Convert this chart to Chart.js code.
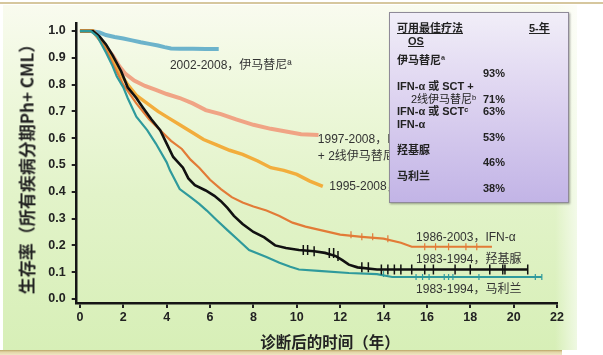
<!DOCTYPE html>
<html>
<head>
<meta charset="utf-8">
<script src="https://cdn.jsdelivr.net/npm/chart.js@4/dist/chart.umd.min.js"></script>
<style>
  html, body { margin: 0; padding: 0; background: #ffffff; width: 603px; height: 355px; overflow: hidden; }
  #topline { position: absolute; left: 0; top: 2px; width: 603px; height: 2px; background: #d6c79e; }
  #panel { position: absolute; left: 3px; top: 5px; width: 574px; height: 345px;
    background: linear-gradient(to bottom, #f9fbef 0%, #eef8dc 25%, #e2f3c9 55%, #d7efb7 100%); }
  #panelfade { position: absolute; left: 555px; top: 5px; width: 22px; height: 345px;
    background: linear-gradient(to right, rgba(255,255,255,0) 0%, rgba(255,255,255,0.6) 100%); }
  #bottomline { position: absolute; left: 0; top: 350px; width: 562px; height: 5px;
    background: linear-gradient(to bottom, #b9a465 0%, #e2d5a6 40%, #efe6c4 100%); }
  #c { position: absolute; left: 0; top: 0; }
  .title { position: absolute; white-space: nowrap; font-family: "Noto Sans CJK SC", sans-serif; font-weight: bold; color: #222; }
  #ytitle { left: 26px; top: 165px; font-size: 17px; transform: translate(-50%, -50%) rotate(-90deg); }
  #xtitle { left: 330px; top: 341px; font-size: 15.5px; transform: translate(-50%, -50%); }
  #box { position: absolute; left: 389px; top: 12px; width: 178px; height: 189px;
    border: 1px solid #8f8a98; box-shadow: 1px 1px 2px rgba(0,0,0,0.35);
    background: linear-gradient(to bottom, #f1eef8 0%, #ddd3f0 45%, #c2b4e6 100%);
    font-family: "Liberation Sans", Arial, "Noto Sans CJK SC", sans-serif; font-weight: bold; font-size: 11px; color: #222; }
  #box div { position: absolute; white-space: nowrap; line-height: 13px; }
  .u { text-decoration: underline; }
</style>
</head>
<body>
<div id="topline"></div>
<div id="panel"></div>
<div id="panelfade"></div>
<div id="bottomline"></div>
<canvas id="c" width="603" height="355"></canvas>
<div class="title" id="ytitle">生存率（所有疾病分期Ph+ CML）</div>
<div class="title" id="xtitle">诊断后的时间（年）</div>
<div id="box"></div>
<script>
// ---------------- data ----------------
const xTicks = [0, 2, 4, 6, 8, 10, 12, 14, 16, 18, 20, 22];
const yTicks = [0.0, 0.1, 0.2, 0.3, 0.4, 0.5, 0.6, 0.7, 0.8, 0.9, 1.0];

const seriesNames = ["2002-2008，伊马替尼ª", "1997-2008，IFN-α 或 SCT + 2线伊马替尼", "1995-2008，IFN-α 或 SCT",
                     "1986-2003，IFN-α", "1983-1994，羟基脲", "1983-1994，马利兰"];

const imatinibX = [0, 0.5, 0.9, 1.2, 1.6, 2.0, 2.4, 2.8, 3.2, 3.6, 3.9, 4.2, 4.6, 5.2, 5.8, 6.4];
const imatinibY = [1.0, 1.0, 0.995, 0.985, 0.978, 0.972, 0.965, 0.958, 0.952, 0.946, 0.94, 0.935, 0.934, 0.934, 0.933, 0.933];

const secondLineX = [0, 0.6, 0.9, 1.2, 1.5, 1.8, 2.1, 2.5, 3.0, 3.5, 4.0, 4.6, 5.2, 5.8, 6.5, 7.2, 8.0, 8.8, 9.5, 10.2, 11.0];
const secondLineY = [1.0, 1.0, 0.97, 0.94, 0.91, 0.87, 0.84, 0.815, 0.795, 0.78, 0.765, 0.75, 0.73, 0.705, 0.69, 0.67, 0.65, 0.635, 0.625, 0.615, 0.612];

const ifnSctX = [0, 0.6, 0.9, 1.2, 1.5, 1.8, 2.2, 2.6, 3.1, 3.6, 4.1, 4.6, 5.2, 5.7, 6.3, 6.9, 7.5, 8.2, 8.8, 9.4, 10.0, 10.6, 11.2];
const ifnSctY = [1.0, 1.0, 0.97, 0.94, 0.90, 0.85, 0.80, 0.76, 0.73, 0.70, 0.675, 0.65, 0.62, 0.595, 0.575, 0.555, 0.54, 0.515, 0.49, 0.48, 0.465, 0.44, 0.42];

const ifnX = [0, 0.6, 0.9, 1.2, 1.5, 2.0, 2.6, 3.2, 3.7, 4.2, 4.7, 5.1, 5.5, 6.0, 6.5, 7.0, 7.5, 8.0, 8.6, 9.2, 9.8, 10.4, 11.2, 12.0, 13.0, 14.0, 14.8, 15.3, 16.5, 18.0, 19.0];
const ifnY = [1.0, 1.0, 0.97, 0.93, 0.88, 0.80, 0.73, 0.67, 0.63, 0.59, 0.56, 0.52, 0.49, 0.445, 0.41, 0.38, 0.36, 0.345, 0.33, 0.31, 0.285, 0.27, 0.255, 0.24, 0.232, 0.225, 0.21, 0.195, 0.195, 0.195, 0.195];

const hydroxyureaX = [0, 0.6, 0.9, 1.2, 1.5, 1.9, 2.2, 2.6, 2.9, 3.3, 3.7, 4.0, 4.3, 4.75, 5.0, 5.3, 5.8, 6.2, 6.5, 6.8, 7.1, 7.5, 8.0, 8.5, 9.0, 9.5, 10.1, 10.8, 11.3, 11.8, 12.1, 12.4, 12.8, 13.7, 15.0, 17.0, 19.0, 20.65];
const hydroxyureaY = [1.0, 1.0, 0.98, 0.95, 0.91, 0.85, 0.79, 0.75, 0.715, 0.67, 0.63, 0.58, 0.53, 0.49, 0.45, 0.425, 0.405, 0.385, 0.365, 0.34, 0.31, 0.28, 0.25, 0.23, 0.20, 0.19, 0.183, 0.178, 0.172, 0.16, 0.145, 0.128, 0.118, 0.11, 0.11, 0.11, 0.11, 0.11];

const busulfanX = [0, 0.5, 0.8, 1.0, 1.2, 1.5, 1.7, 2.0, 2.2, 2.6, 3.1, 3.5, 4.0, 4.15, 4.6, 5.1, 5.5, 5.85, 6.3, 6.8, 7.3, 7.8, 8.6, 9.2, 9.7, 10.1, 11.0, 12.4, 13.7, 14.4, 16.0, 18.0, 21.3];
const busulfanY = [1.0, 1.0, 0.98, 0.95, 0.92, 0.87, 0.83, 0.79, 0.75, 0.68, 0.63, 0.58, 0.51, 0.48, 0.41, 0.38, 0.355, 0.33, 0.295, 0.257, 0.22, 0.183, 0.157, 0.135, 0.12, 0.11, 0.105, 0.097, 0.093, 0.082, 0.082, 0.082, 0.082];

// censoring marks
const hydroxyCensorX = [10.3, 10.5, 10.8, 11.5, 11.7, 11.9, 13.0, 13.3, 13.9, 14.2, 14.5, 14.8, 15.3, 15.9, 16.3, 17.3, 18.0, 18.9, 19.5, 19.6, 20.65];
const hydroxyCensorY = [0.183, 0.183, 0.178, 0.172, 0.172, 0.16, 0.118, 0.118, 0.11, 0.11, 0.11, 0.11, 0.11, 0.11, 0.11, 0.11, 0.11, 0.11, 0.11, 0.11, 0.11];
const busulfanCensorX = [14.0, 15.5, 15.8, 16.1, 16.8, 17.0, 17.2, 18.4, 21.0, 21.3];
const busulfanCensorY = [0.093, 0.082, 0.082, 0.082, 0.082, 0.082, 0.082, 0.082, 0.082, 0.082];
const ifnCensorX = [12.5, 13.0, 13.5, 14.2, 15.9, 16.4, 17.0, 17.8, 18.3];
const ifnCensorY = [0.24, 0.232, 0.232, 0.225, 0.195, 0.195, 0.195, 0.195, 0.195];

// table (legend box)
const tableHeader = ["可用最佳疗法", "OS", "5-年"];
const tableRows = [
  { lines: ["伊马替尼ª"], value: "93%" },
  { lines: ["IFN-α 或 SCT +", "2线伊马替尼ᵇ"], value: "71%" },
  { lines: ["IFN-α 或 SCTᶜ"], value: "63%" },
  { lines: ["IFN-α"], value: "53%" },
  { lines: ["羟基脲"], value: "46%" },
  { lines: ["马利兰"], value: "38%" }
];

// curve label positions (data coordinates)
const labelX = [4.15, 10.97, 11.5, 15.5, 15.5, 15.5];
const labelY = [0.87, 0.593, 0.42, 0.23, 0.145, 0.033];

// ---------------- build ----------------
function pts(xs, ys) { return xs.map((x, i) => ({ x: x, y: ys[i] })); }

const curveStyle = [
  { color: "#6cb3cb", width: 4 },
  { color: "#f0a485", width: 4 },
  { color: "#f2ad3c", width: 3.5 },
  { color: "#e27b37", width: 2.2 },
  { color: "#111111", width: 2.6 },
  { color: "#2f9a9c", width: 2.2 }
];
const curveData = [
  pts(imatinibX, imatinibY), pts(secondLineX, secondLineY), pts(ifnSctX, ifnSctY),
  pts(ifnX, ifnY), pts(hydroxyureaX, hydroxyureaY), pts(busulfanX, busulfanY)
];

const datasets = curveData.map((d, i) => ({
  label: seriesNames[i], data: d, tension: 0,
  borderColor: curveStyle[i].color, borderWidth: curveStyle[i].width,
  pointRadius: 0, fill: false, order: 10 - i
}));

function censorSet(xs, ys, color, r, w) {
  return { data: pts(xs, ys), showLine: false, pointStyle: "line", rotation: 90,
    pointRadius: r, borderColor: color, borderWidth: w, backgroundColor: color, order: 0 };
}
datasets.push(censorSet(hydroxyCensorX, hydroxyCensorY, "#111111", 5, 1.5));
datasets.push(censorSet(busulfanCensorX, busulfanCensorY, "#2f9a9c", 3, 1.2));
datasets.push(censorSet(ifnCensorX, ifnCensorY, "#e27b37", 3.5, 1.2));

const labelPlugin = {
  id: "curveLabels",
  afterDatasetsDraw(chart) {
    const ctx = chart.ctx, xs = chart.scales.x, ys = chart.scales.y;
    ctx.save();
    ctx.font = '12px "Liberation Sans", Arial, "Noto Sans CJK SC", sans-serif';
    ctx.fillStyle = "#333";
    ctx.textBaseline = "middle";
    ctx.textAlign = "left";
    const texts = [
      ["2002-2008，伊马替尼ª"],
      ["1997-2008，IFN-α 或 SCT", "+ 2线伊马替尼ᵇ"],
      ["1995-2008，IFN-α 或 SCT"],
      ["1986-2003，IFN-α"],
      ["1983-1994，羟基脲"],
      ["1983-1994，马利兰"]
    ];
    texts.forEach((lines, i) => {
      const px = xs.getPixelForValue(labelX[i]);
      const py = ys.getPixelForValue(labelY[i]);
      lines.forEach((t, j) => ctx.fillText(t, px, py + j * 17));
    });
    ctx.restore();
  }
};

const tickFont = { family: '"Liberation Sans", Arial, sans-serif', size: 12.5, weight: "bold" };

new Chart(document.getElementById("c"), {
  type: "line",
  data: { datasets: datasets },
  options: {
    responsive: false, animation: false,
    layout: { padding: { left: 0, right: 46, top: 23, bottom: 0 } },
    plugins: { legend: { display: false }, tooltip: { enabled: false } },
    scales: {
      x: {
        type: "linear", min: -0.15, max: 22,
        afterBuildTicks(s) { s.ticks = xTicks.map(v => ({ value: v })); },
        afterFit(s) { s.height = 52; },
        ticks: { color: "#222", font: tickFont, padding: 2, maxRotation: 0 },
        grid: { drawOnChartArea: false, drawTicks: true, tickLength: 5, color: "#222", lineWidth: 2 },
        border: { display: true, color: "#151515", width: 2.5 },
        title: { display: false }
      },
      y: {
        type: "linear", min: -0.015, max: 1.03,
        afterBuildTicks(s) { s.ticks = yTicks.map(v => ({ value: v })); },
        afterFit(s) { s.width = 76.7; },
        ticks: { color: "#222", font: tickFont, padding: 6, callback: v => Number(v).toFixed(1) },
        grid: { drawOnChartArea: false, drawTicks: true, tickLength: 5, color: "#222", lineWidth: 2 },
        border: { display: true, color: "#151515", width: 2.5 },
        title: { display: false }
      }
    }
  },
  plugins: [labelPlugin]
});

// legend/table box as real HTML text
(function () {
  const box = document.getElementById("box");
  function add(text, left, top, cls) {
    const d = document.createElement("div");
    d.textContent = text; d.style.left = left + "px"; d.style.top = top + "px";
    if (cls) d.className = cls;
    box.appendChild(d);
    return d;
  }
  add(tableHeader[0], 7, 9, "u");
  add(tableHeader[1], 18, 22, "u");
  add(tableHeader[2], 139, 9, "u");
  const rowTops = [41, 67, 92, 105, 131, 157];
  const rowVals = [54, 80, 92, 118, 143, 169];
  tableRows.forEach((r, i) => {
    r.lines.forEach((ln, j) => {
      const d = add(ln, j === 0 ? 7 : 21, rowTops[i] + j * 13);
      if (j === 1) d.style.fontWeight = "normal";
    });
    add(r.value, 93, rowVals[i]);
  });
})();
</script>
</body>
</html>
